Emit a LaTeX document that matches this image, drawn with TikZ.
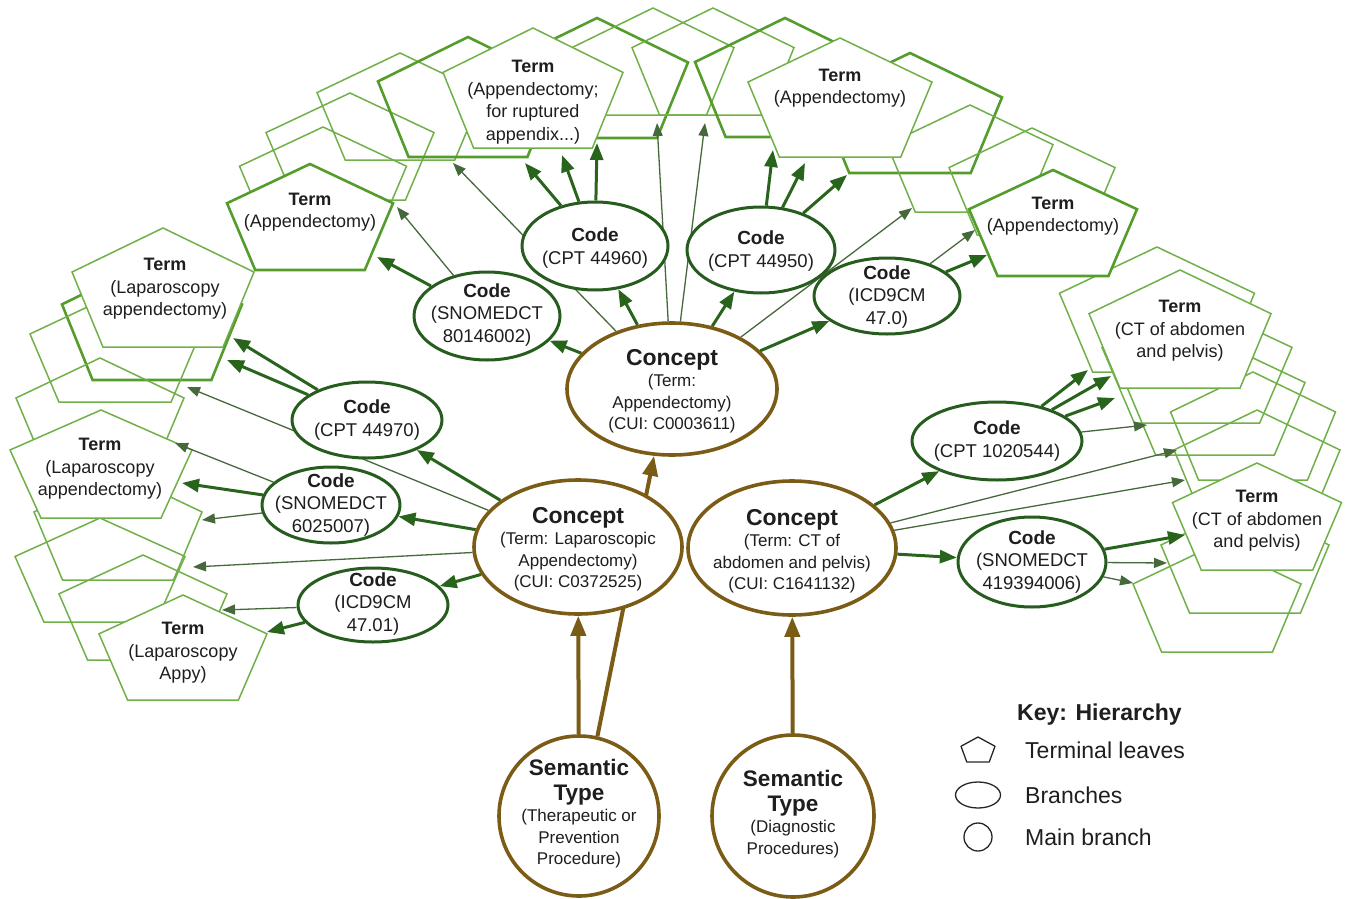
\documentclass[tikz,border=0pt]{standalone}
\usepackage{fontspec}
\setmainfont{Liberation Sans}
\usetikzlibrary{shapes.geometric,arrows.meta}
\definecolor{cbrown}{RGB}{122,92,22}
\definecolor{kgreen}{RGB}{38,92,30}
\definecolor{agreen}{RGB}{40,100,28}
\definecolor{tgreen}{RGB}{70,105,60}
\definecolor{pgreen}{RGB}{112,176,72}
\definecolor{pgreenk}{RGB}{84,156,44}
\definecolor{txt}{RGB}{30,30,30}
\pgfdeclarelayer{bg}\pgfdeclarelayer{mid}\pgfdeclarelayer{lines}
\pgfsetlayers{bg,mid,lines,main}
\newcommand\pent[5][]{\draw[#1] (#2,#3) -- ({#2+0.5*#4},{#3+0.37*#5}) -- ({#2+0.33*#4},{#3+#5}) -- ({#2-0.33*#4},{#3+#5}) -- ({#2-0.5*#4},{#3+0.37*#5}) -- cycle;}
\newcommand\hd[2]{{\fontsize{#1}{#1}\selectfont\bfseries #2}}
\tikzset{
  pthin/.style={draw=pgreen, line width=1.5pt},
  pthick/.style={draw=pgreenk, line width=2.6pt},
  concE/.style={ellipse, draw=cbrown, line width=3.6pt, fill=white, inner sep=0pt},
  semC/.style={circle, draw=cbrown, line width=3.6pt, fill=white, inner sep=0pt},
  codeE/.style={ellipse, draw=kgreen, line width=3pt, fill=white, inner sep=0pt},
  termT/.style={align=center, text=txt, font=\fontsize{18}{22.5}\selectfont, inner sep=0pt},
  codeT/.style={align=center, text=txt, font=\fontsize{18.5}{22.5}\selectfont, inner sep=0pt},
  concT/.style={align=center, text=txt, font=\fontsize{17}{21.5}\selectfont, inner sep=0pt},
  keyT/.style={anchor=west, text=txt, font=\fontsize{23}{23}\selectfont, inner sep=0pt},
  karrow/.style={draw=agreen, line width=3pt, -{Triangle[length=17pt,width=13pt]}},
  tarrow/.style={draw=tgreen, line width=1.3pt, -{Triangle[length=13pt,width=10pt]}},
  barrow/.style={draw=cbrown, line width=4pt, -{Triangle[length=20pt,width=15pt]}},
}
\begin{document}
\begin{tikzpicture}[x=1pt,y=-1pt,line join=round]
\useasboundingbox (0,0) rectangle (1349,899);

% ---------- background (unlabelled) term pentagons ----------
\begin{pgfonlayer}{bg}
% top arc
\pent[pthin]{400}{53}{166}{107}
\pent[pthin]{350}{93}{168}{107}
\pent[pthin]{323}{127}{167}{106}
\pent[pthick]{468}{37}{180}{120}
\pent[pthick]{597}{18}{182}{120}
\pent[pthin]{653}{8}{162}{107}
\pent[pthin]{713}{8}{162}{107}
\pent[pthick]{785}{18}{180}{119}
\pent[pthick]{910}{53}{184}{120}
\pent[pthin]{970}{105}{166}{107}
\pent[pthin]{1032}{128}{166}{107}
% left column
\pent[pthick]{152}{260}{180}{120}
\pent[pthin]{115}{294}{170}{108}
\pent[pthin]{100}{358}{168}{108}
\pent[pthin]{118}{472}{168}{108}
\pent[pthin]{100}{518}{170}{104}
\pent[pthin]{143}{555}{168}{105}
% right column
\pent[pthin]{1157}{247}{195}{125}
\pent[pthin]{1197}{303}{190}{120}
\pent[pthin]{1215}{340}{180}{115}
\pent[pthin]{1253}{372}{165}{108}
\pent[pthin]{1257}{410}{166}{108}
\pent[pthin]{1245}{505}{168}{108}
\pent[pthin]{1217}{544}{168}{108}
\end{pgfonlayer}

% ---------- labelled term pentagons ----------
\begin{pgfonlayer}{mid}
\pent[pthick,fill=white]{310}{164}{166}{106}
\pent[pthin,fill=white]{533}{28}{180}{120}
\pent[pthin,fill=white]{840}{38}{184}{119}
\pent[pthick,fill=white]{1053}{170}{168}{106}
\pent[pthin,fill=white]{163}{228}{182}{119}
\pent[pthin,fill=white]{101}{410}{182}{108}
\pent[pthin,fill=white]{183}{595}{168}{105}
\pent[pthin,fill=white]{1180}{270}{182}{118}
\pent[pthin,fill=white]{1257}{463}{169}{107}
\end{pgfonlayer}

\node[termT] (Ta) at (310,212) {\hd{18}{Term}\\(Appendectomy)};
\node[termT] (Tb) at (533,102) {\hd{18}{Term}\\(Appendectomy;\\for ruptured\\appendix...)};
\node[termT] (Tc) at (840,88) {\hd{18}{Term}\\(Appendectomy)};
\node[termT] (Td) at (1053,216) {\hd{18}{Term}\\(Appendectomy)};
\node[termT] (Te) at (165,289) {\hd{18}{Term}\\(Laparoscopy\\appendectomy)};
\node[termT] (Tf) at (100,469) {\hd{18}{Term}\\(Laparoscopy\\appendectomy)};
\node[termT] (Tg) at (183,653) {\hd{18}{Term}\\(Laparoscopy\\Appy)};
\node[termT] (Th) at (1180,331) {\hd{18}{Term}\\(CT of abdomen\\and pelvis)};
\node[termT] (Ti) at (1257,521) {\hd{18}{Term}\\(CT of abdomen\\and pelvis)};

% ---------- concept / semantic type nodes ----------
\node[concE, minimum width=210pt, minimum height=132pt] (C1) at (672,389) {};
\node[concE, minimum width=208pt, minimum height=134pt] (C2) at (578,547) {};
\node[concE, minimum width=208pt, minimum height=134pt] (C3) at (792,548) {};
\node[semC, minimum size=160pt] (S1) at (579,816) {};
\node[semC, minimum size=162pt] (S2) at (793,816) {};
\node[concT] (C1t) at (672,391) {\hd{23}{Concept}\\(Term:\\Appendectomy)\\(CUI: C0003611)};
\node[concT] (C2t) at (578,549) {\hd{23}{Concept}\\(Term: Laparoscopic\\Appendectomy)\\(CUI: C0372525)};
\node[concT] (C3t) at (792,551) {\hd{23}{Concept}\\(Term: CT of\\abdomen and pelvis)\\(CUI: C1641132)};
\node[concT] (S1t) at (579,814) {\hd{22.5}{Semantic}\\[3pt]\hd{22.5}{Type}\\(Therapeutic or\\Prevention\\Procedure)};
\node[concT] (S2t) at (793,814) {\hd{22.5}{Semantic}\\[3pt]\hd{22.5}{Type}\\(Diagnostic\\Procedures)};

% ---------- code nodes ----------
\node[codeE, minimum width=146pt, minimum height=88pt] (K1) at (595,246) {};
\node[codeE, minimum width=148pt, minimum height=86pt] (K2) at (761,250) {};
\node[codeE, minimum width=146pt, minimum height=88pt] (K3) at (487,316) {};
\node[codeE, minimum width=146pt, minimum height=76pt] (K4) at (887,296) {};
\node[codeE, minimum width=150pt, minimum height=76pt] (K5) at (367,420) {};
\node[codeE, minimum width=138pt, minimum height=76pt] (K6) at (331,505) {};
\node[codeE, minimum width=150pt, minimum height=74pt] (K7) at (373,605) {};
\node[codeE, minimum width=170pt, minimum height=78pt] (K8) at (997,441) {};
\node[codeE, minimum width=148pt, minimum height=90pt] (K9) at (1032,562) {};
\node[codeT] (K1t) at (595,248) {\hd{19}{Code}\\(CPT 44960)};
\node[codeT] (K2t) at (761,251) {\hd{19}{Code}\\(CPT 44950)};
\node[codeT] (K3t) at (487,315) {\hd{19}{Code}\\(SNOMEDCT\\80146002)};
\node[codeT] (K4t) at (887,297) {\hd{19}{Code}\\(ICD9CM\\47.0)};
\node[codeT] (K5t) at (367,420) {\hd{19}{Code}\\(CPT 44970)};
\node[codeT] (K6t) at (331,505) {\hd{19}{Code}\\(SNOMEDCT\\6025007)};
\node[codeT] (K7t) at (373,604) {\hd{19}{Code}\\(ICD9CM\\47.01)};
\node[codeT] (K8t) at (997,441) {\hd{19}{Code}\\(CPT 1020544)};
\node[codeT] (K9t) at (1032,562) {\hd{19}{Code}\\(SNOMEDCT\\419394006)};

% ---------- arrow tip coordinates on term pentagons ----------
\coordinate (tK1a) at (525,163); \coordinate (tK1b) at (562,155); \coordinate (tK1c) at (597,143);
\coordinate (tK2a) at (773,150); \coordinate (tK2b) at (805,163); \coordinate (tK2c) at (847,175);
\coordinate (tK3a) at (377,257); \coordinate (tK3b) at (397,207);
\coordinate (tK4a) at (975,230); \coordinate (tK4b) at (987,255);
\coordinate (tK5a) at (233,338); \coordinate (tK5b) at (227,360);
\coordinate (tK6a) at (182,483); \coordinate (tK6b) at (202,520); \coordinate (tK6c) at (175,443);
\coordinate (tK7a) at (222,610); \coordinate (tK7b) at (267,632);
\coordinate (tK8a) at (1088,370); \coordinate (tK8b) at (1111,376); \coordinate (tK8c) at (1115,398); \coordinate (tK8d) at (1147,425);
\coordinate (tK9a) at (1185,535); \coordinate (tK9b) at (1167,563); \coordinate (tK9c) at (1133,583);
\coordinate (tC1a) at (453,163); \coordinate (tC1b) at (657,123); \coordinate (tC1c) at (705,123); \coordinate (tC1d) at (912,208);
\coordinate (tC2a) at (187,387); \coordinate (tC2b) at (193,567);
\coordinate (tC3a) at (1177,450); \coordinate (tC3b) at (1185,480);

% ---------- connectors ----------
\begin{pgfonlayer}{lines}
% concept -> term (direct, thin)
\draw[tarrow] (C1) -- (tC1a);
\draw[tarrow] (C1) -- (tC1b);
\draw[tarrow] (C1) -- (tC1c);
\draw[tarrow] (C1) -- (tC1d);
\draw[tarrow] (C2) -- (tC2a);
\draw[tarrow] (C2) -- (tC2b);
\draw[tarrow] (C3) -- (tC3a);
\draw[tarrow] (C3) -- (tC3b);
% concept -> code
\draw[karrow] (C1) -- (K3);
\draw[karrow] (C1) -- (K1);
\draw[karrow] (C1) -- (K2);
\draw[karrow] (C1) -- (K4);
\draw[karrow] (C2) -- (K5);
\draw[karrow] (C2) -- (K6);
\draw[karrow] (C2) -- (K7);
\draw[karrow] (C3) -- (K8);
\draw[karrow] (C3) -- (K9);
% code -> term
\draw[karrow] (K1) -- (tK1a);
\draw[karrow] (K1) -- (tK1b);
\draw[karrow] (K1) -- (tK1c);
\draw[karrow] (K2) -- (tK2a);
\draw[karrow] (K2) -- (tK2b);
\draw[karrow] (K2) -- (tK2c);
\draw[karrow] (K3) -- (tK3a);
\draw[tarrow] (K3) -- (tK3b);
\draw[tarrow] (K4) -- (tK4a);
\draw[karrow] (K4) -- (tK4b);
\draw[karrow] (K5) -- (tK5a);
\draw[karrow] (K5) -- (tK5b);
\draw[karrow] (K6) -- (tK6a);
\draw[tarrow] (K6) -- (tK6b);
\draw[tarrow] (K6) -- (tK6c);
\draw[tarrow] (K7) -- (tK7a);
\draw[karrow] (K7) -- (tK7b);
\draw[karrow] (K8) -- (tK8a);
\draw[karrow] (K8) -- (tK8b);
\draw[karrow] (K8) -- (tK8c);
\draw[tarrow] (K8) -- (tK8d);
\draw[karrow] (K9) -- (tK9a);
\draw[tarrow] (K9) -- (tK9b);
\draw[tarrow] (K9) -- (tK9c);
% semantic type -> concept
\draw[barrow] (S1) -- (C2);
\draw[barrow] (S1.77) -- (C1.255);
\draw[barrow] (S2) -- (C3);
\end{pgfonlayer}

% ---------- key ----------
\node[keyT, font=\fontsize{23}{23}\selectfont\bfseries] (key) at (1017,715) {Key: Hierarchy};
\pent[draw=black!85, line width=1.3pt]{978}{737}{34}{25}
\node[keyT] (k1) at (1025,750) {Terminal leaves};
\node[ellipse, draw=black!85, line width=1.3pt, minimum width=45pt, minimum height=26pt, inner sep=0pt] (ke) at (978,795) {};
\node[keyT] (k2) at (1025,795) {Branches};
\node[circle, draw=black!85, line width=1.3pt, minimum size=28pt, inner sep=0pt] (kc) at (978,837) {};
\node[keyT] (k3) at (1025,837) {Main branch};
\end{tikzpicture}
\end{document}
